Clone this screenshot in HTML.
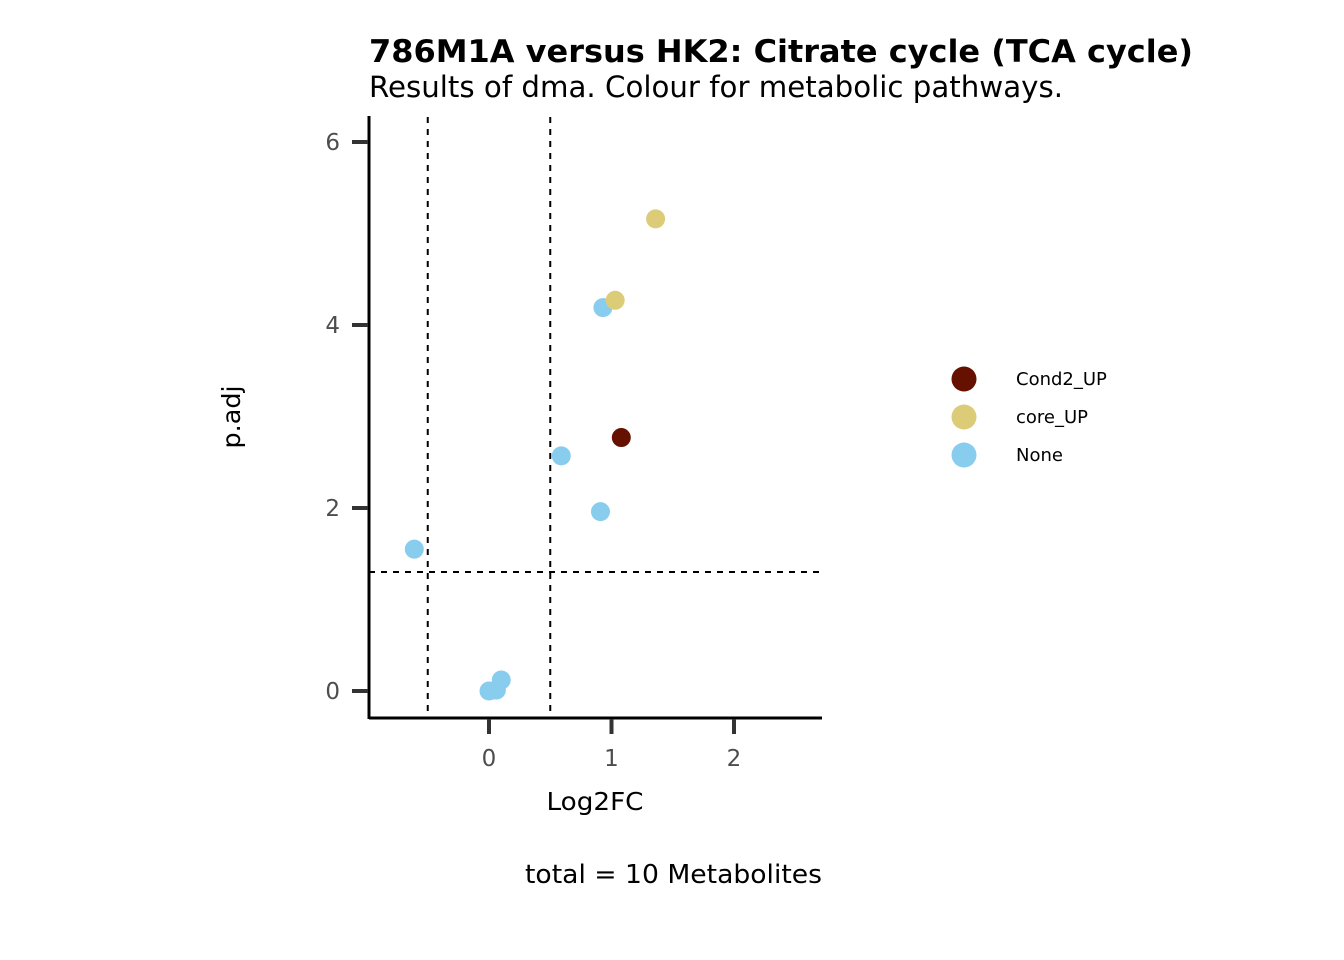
<!DOCTYPE html>
<html><head><meta charset="utf-8"><style>
html,body{margin:0;padding:0;background:#fff;}
svg{display:block;font-family:"DejaVu Sans","Liberation Sans",sans-serif;}
</style></head><body>
<svg id="chart" width="1344" height="960" viewBox="0 0 1344 960">
<text x="369" y="62" font-size="31px" font-weight="bold" fill="#000" textLength="824" lengthAdjust="spacingAndGlyphs">786M1A versus HK2: Citrate cycle (TCA cycle)</text>
<text x="369" y="97" font-size="29px" fill="#000" textLength="694" lengthAdjust="spacingAndGlyphs">Results of dma. Colour for metabolic pathways.</text>
<g id="plot"></g>
<text x="595" y="810" font-size="25px" fill="#000" text-anchor="middle" textLength="97" lengthAdjust="spacingAndGlyphs">Log2FC</text>
<text transform="translate(240,417) rotate(-90)" font-size="25px" fill="#000" text-anchor="middle" textLength="63" lengthAdjust="spacingAndGlyphs">p.adj</text>
<text x="822" y="883" font-size="26px" fill="#000" text-anchor="end" textLength="297" lengthAdjust="spacingAndGlyphs">total = 10 Metabolites</text>
<g id="legend"></g>
</svg>
<script>
const xs = [-0.61, 0.0, 0.06, 0.10, 0.59, 0.91, 0.93, 1.03, 1.36, 1.08];
const ys = [1.55, 0.0, 0.01, 0.12, 2.57, 1.96, 4.19, 4.27, 5.16, 2.77];
const groups = ["None","None","None","None","None","None","None","core_UP","core_UP","Cond2_UP"];
const legendLabels = ["Cond2_UP","core_UP","None"];
const xTicks = [0,1,2];
const yTicks = [0,2,4,6];
const vLines = [-0.5, 0.5];
const hLines = [1.3];
const colors = {"Cond2_UP":"#661100","core_UP":"#DDCC77","None":"#88CCEE"};
const NS="http://www.w3.org/2000/svg";
const X = v => 489 + v*122.5;
const Y = v => 691 - v*91.5;
const plot = document.getElementById('plot');
function mk(tag, attrs, parent){const e=document.createElementNS(NS,tag);for(const k in attrs)e.setAttribute(k,attrs[k]);parent.appendChild(e);return e;}
vLines.forEach(v=>{const l=mk('line',{x1:X(v),x2:X(v),y1:117,y2:718,stroke:'#000','stroke-width':2,'stroke-dasharray':'6,6'},plot);

});
hLines.forEach(v=>{const l=mk('line',{x1:369,x2:821,y1:Y(v),y2:Y(v),stroke:'#000','stroke-width':2,'stroke-dasharray':'6,6'},plot);

});
const ax=mk('line',{x1:369,x2:822,y1:718,y2:718,stroke:'#000','stroke-width':3},plot);


const ay=mk('line',{x1:369,x2:369,y1:116,y2:719,stroke:'#000','stroke-width':3},plot);


xTicks.forEach(t=>{const tk=mk('line',{x1:X(t),x2:X(t),y1:719,y2:734,stroke:'#333','stroke-width':4},plot);


const tx=mk('text',{x:X(t),y:766,'font-size':'23px',fill:'#4d4d4d','text-anchor':'middle'},plot);tx.textContent=t;

});
yTicks.forEach(t=>{const tk=mk('line',{x1:352,x2:368,y1:Y(t),y2:Y(t),stroke:'#333','stroke-width':4},plot);


const tx=mk('text',{x:340,y:Y(t)+8,'font-size':'23px',fill:'#4d4d4d','text-anchor':'end'},plot);tx.textContent=t;

});
xs.forEach((v,i)=>{const c=mk('circle',{cx:X(v),cy:Y(ys[i]),r:9.5,fill:colors[groups[i]]},plot);

});
const lg=document.getElementById('legend');
legendLabels.forEach((g,i)=>{const y=379+i*38;
const c=mk('circle',{cx:964,cy:y,r:12.5,fill:colors[g]},lg);


const t=mk('text',{x:1016,y:y+6,'font-size':'18px',fill:'#000'},lg);t.textContent=g;

});
</script>
</body></html>
